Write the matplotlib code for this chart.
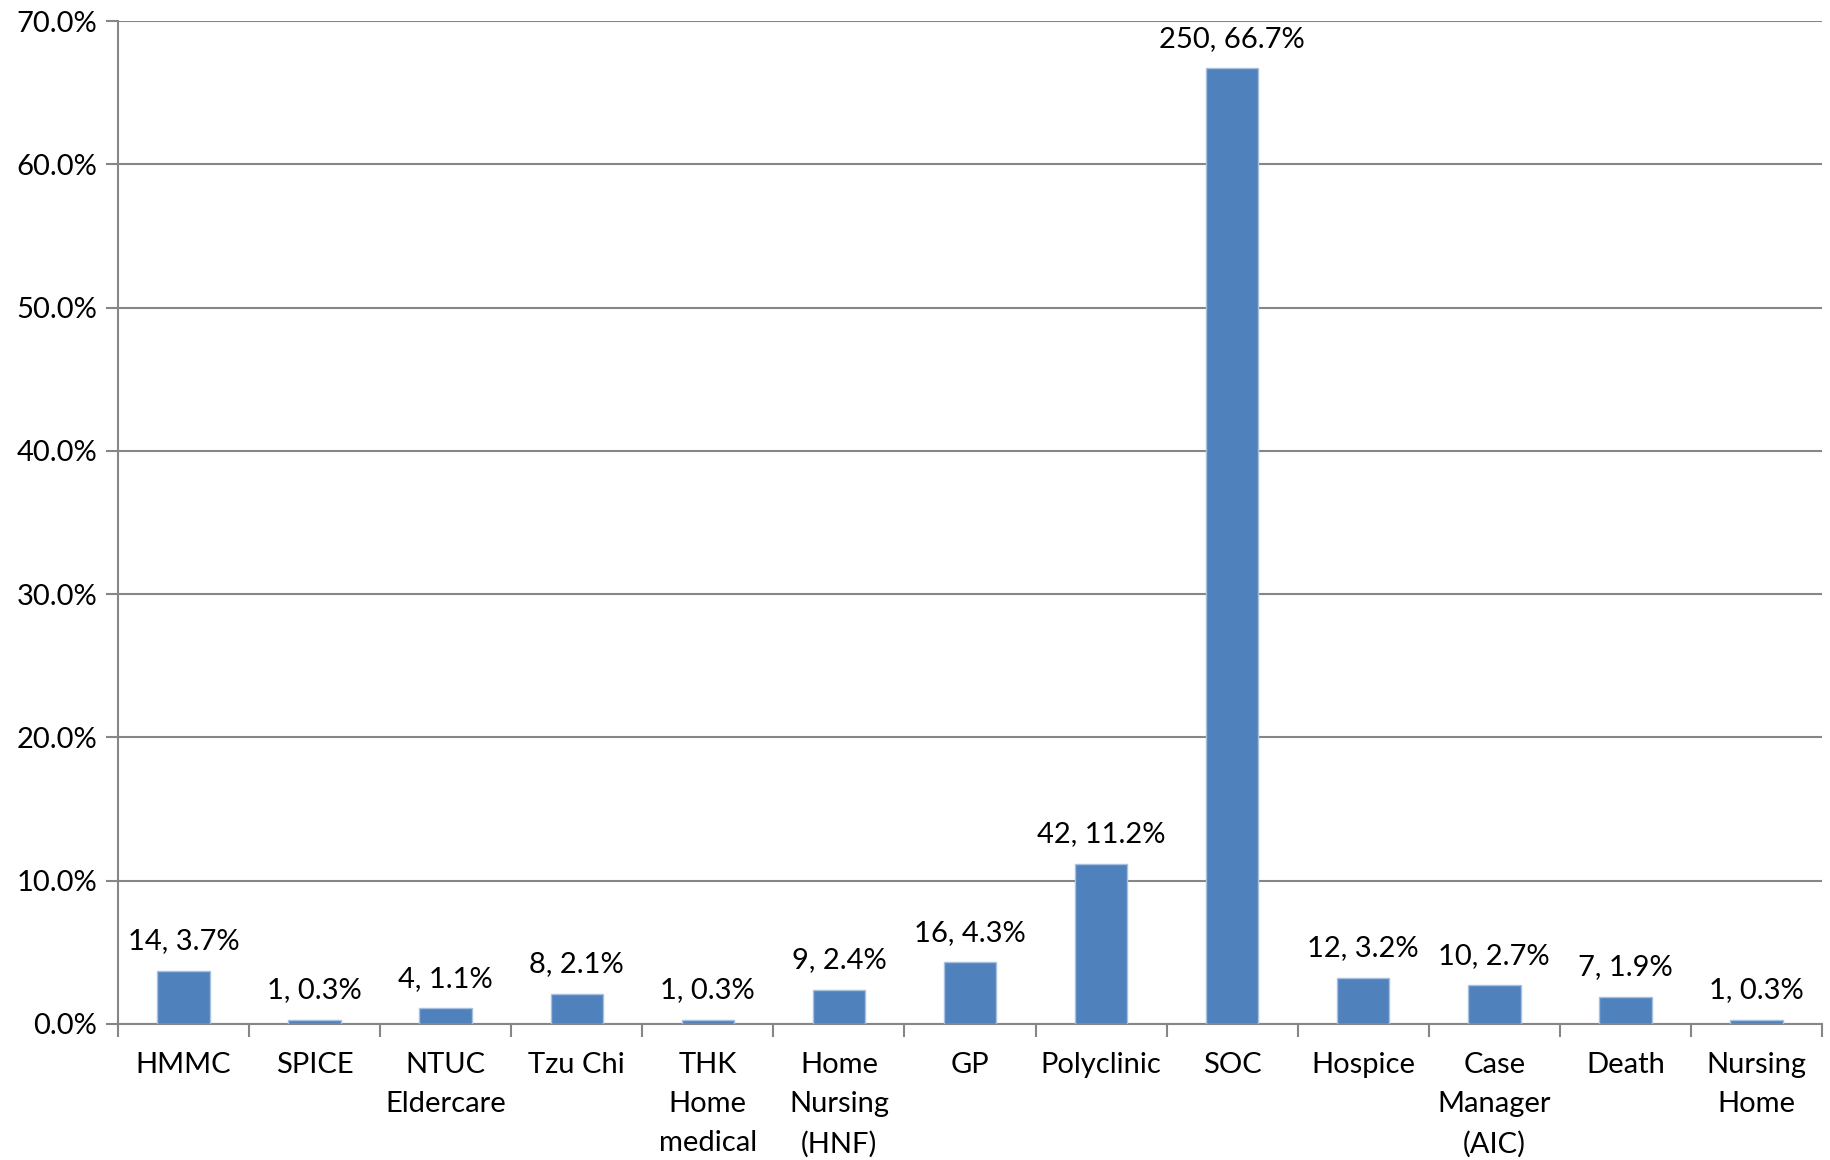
"""Referral destinations bar chart with count and share labels."""

import matplotlib.pyplot as plt
from matplotlib.ticker import FuncFormatter, MultipleLocator

categories = [
    "HMMC", "SPICE", "NTUC\nEldercare", "Tzu Chi", "THK\nHome\nmedical",
    "Home\nNursing\n(HNF)", "GP", "Polyclinic", "SOC", "Hospice",
    "Case\nManager\n(AIC)", "Death", "Nursing\nHome",
]
counts = [14, 1, 4, 8, 1, 9, 16, 42, 250, 12, 10, 7, 1]
shares = [3.7, 0.3, 1.1, 2.1, 0.3, 2.4, 4.3, 11.2, 66.7, 3.2, 2.7, 1.9, 0.3]

BAR_COLOR = "#4f81bd"
GRID_COLOR = "#868686"
FONT_SIZE = 21

plt.rcParams["font.family"] = ["Lato", "DejaVu Sans"]

fig = plt.figure(figsize=(18.31, 11.6), dpi=100)
ax = fig.add_axes([118 / 1831, 1 - 1024 / 1160, (1822 - 118) / 1831, (1024 - 21) / 1160])

positions = range(len(categories))
ax.bar(positions, shares, width=0.4, color=BAR_COLOR, edgecolor="#a7c0de",
       linewidth=1.0, zorder=3)

for x, n, s in zip(positions, counts, shares):
    ax.annotate(f"{n}, {s:.1f}%", (x, s), xytext=(0, 12), textcoords="offset points",
                ha="center", va="bottom", fontsize=FONT_SIZE, color="black")

ax.set_xlim(-0.5, len(categories) - 0.5)
ax.set_ylim(0, 70)
ax.yaxis.set_major_locator(MultipleLocator(10))
ax.yaxis.set_major_formatter(FuncFormatter(lambda v, _: f"{v:.1f}%"))
ax.grid(axis="y", color=GRID_COLOR, linewidth=1.5, zorder=0)

ax.set_xticks([p + 0.5 for p in positions[:-1]] + [-0.5, len(categories) - 0.5])
ax.set_xticklabels([])
ax.set_xticks(list(positions), minor=True)
ax.set_xticklabels(categories, minor=True, fontsize=FONT_SIZE, linespacing=1.62, va="top")
ax.tick_params(axis="x", which="major", length=9, width=1.5, color=GRID_COLOR)
ax.tick_params(axis="x", which="minor", length=0, pad=20)
ax.tick_params(axis="y", length=9, width=1.5, color=GRID_COLOR, labelsize=FONT_SIZE, pad=6)

for side in ("top", "right"):
    ax.spines[side].set_visible(False)
for side in ("left", "bottom"):
    ax.spines[side].set_color(GRID_COLOR)
    ax.spines[side].set_linewidth(1.5)

fig.savefig("out.png", dpi=100, facecolor="white")
